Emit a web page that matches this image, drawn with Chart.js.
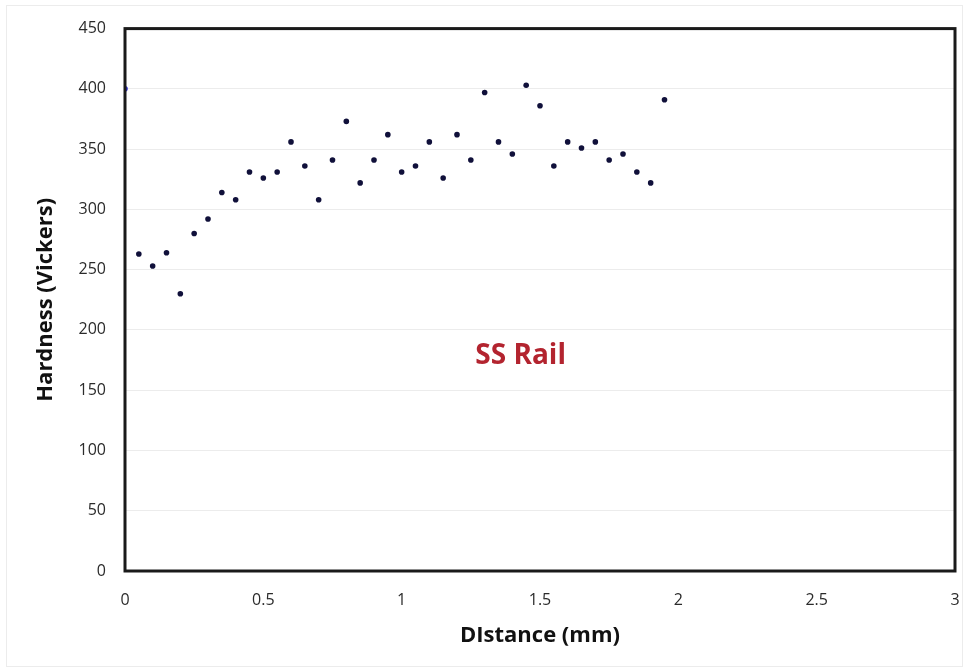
<!DOCTYPE html>
<html>
<head>
<meta charset="utf-8">
<script src="https://cdn.jsdelivr.net/npm/chart.js@4/dist/chart.umd.min.js"></script>
<style>
  html, body { margin: 0; padding: 0; background: #fff; }
  #wrap { width: 967px; height: 671px; position: relative; }
  #edge { position: absolute; left: 6px; top: 5px; right: 4px; bottom: 4px; border: 1px solid #ececec; pointer-events: none; }
</style>
</head>
<body>
<div id="wrap"><canvas id="chart" width="967" height="671"></canvas><div id="edge"></div></div>
<script>
// Hardness profile
const distanceMm = [0, 0.05, 0.1, 0.15, 0.2, 0.25, 0.3, 0.35, 0.4, 0.45, 0.5, 0.55, 0.6, 0.65, 0.7,
  0.75, 0.8, 0.85, 0.9, 0.95, 1.0, 1.05, 1.1, 1.15, 1.2, 1.25, 1.3, 1.35, 1.4, 1.45, 1.5,
  1.55, 1.6, 1.65, 1.7, 1.75, 1.8, 1.85, 1.9, 1.95];
const hardnessHv = [400, 263, 253, 264, 230, 280, 292, 314, 308, 331, 326, 331, 356, 336, 308,
  341, 373, 322, 341, 362, 331, 336, 356, 326, 362, 341, 397, 356, 346, 403, 386,
  336, 356, 351, 356, 341, 346, 331, 322, 391];
const yTicks = [0, 50, 100, 150, 200, 250, 300, 350, 400, 450];
const xTicks = [0, 0.5, 1, 1.5, 2, 2.5, 3];
const labelText = 'SS Rail';

const points = distanceMm.map((x, i) => ({ x: x, y: hardnessHv[i] }));

// frame round the plot area + the "SS Rail" label
const framePlugin = {
  id: 'frame',
  afterDatasetsDraw(chart) {
    const { ctx, chartArea: a, scales } = chart;
    ctx.save();
    ctx.strokeStyle = '#1a1a1a';
    ctx.lineWidth = 3;
    ctx.strokeRect(a.left, a.top, a.right - a.left, a.bottom - a.top);
    ctx.fillStyle = '#b3242f';
    ctx.font = 'bold 28px "Open Sans", sans-serif';
    ctx.textAlign = 'center';
    ctx.textBaseline = 'middle';
    ctx.fillText(labelText, scales.x.getPixelForValue(1.43), scales.y.getPixelForValue(178));
    ctx.restore();
  }
};

const ctx = document.getElementById('chart').getContext('2d');
new Chart(ctx, {
  type: 'scatter',
  data: {
    datasets: [{
      label: 'Hardness',
      data: points,
      backgroundColor: points.map((p, i) => i === 0 ? '#2a2ad0' : '#10103a'),
      borderColor: points.map((p, i) => i === 0 ? '#2a2ad0' : '#10103a'),
      pointRadius: 2.8,
      pointHoverRadius: 4,
      borderWidth: 0
    }]
  },
  options: {
    responsive: false,
    animation: false,
    layout: { padding: { left: 0, right: 12, top: 26, bottom: 0 } },
    plugins: {
      legend: { display: false },
      tooltip: { enabled: false }
    },
    scales: {
      x: {
        type: 'linear',
        min: 0,
        max: 3,
        afterBuildTicks: (axis) => { axis.ticks = xTicks.map(v => ({ value: v })); },
        afterFit: (axis) => {
          axis.height = 100;
          axis.paddingLeft = 0;
          axis.paddingRight = 0;
        },
        ticks: {
          color: '#2b2b2b',
          padding: 20,
          font: { family: '"Open Sans", sans-serif', size: 16 },
          callback: (v) => String(v)
        },
        grid: { display: false, drawTicks: false },
        border: { display: false },
        title: {
          display: true,
          text: 'DIstance (mm)',
          color: '#111',
          padding: { top: 4, bottom: 22 },
          font: { family: '"Open Sans", sans-serif', size: 22, weight: 'bold' }
        }
      },
      y: {
        min: 0,
        max: 450,
        afterBuildTicks: (axis) => { axis.ticks = yTicks.map(v => ({ value: v })); },
        afterFit: (axis) => { axis.width = 125; },
        ticks: {
          color: '#2b2b2b',
          padding: 19,
          font: { family: '"Open Sans", sans-serif', size: 16 }
        },
        grid: { color: '#ececec', lineWidth: 1, drawTicks: false },
        border: { display: false },
        title: {
          display: true,
          text: 'Hardness (Vickers)',
          color: '#111',
          padding: { top: 33, bottom: 4 },
          font: { family: '"Open Sans", sans-serif', size: 22, weight: 'bold' }
        }
      }
    }
  },
  plugins: [framePlugin]
});
</script>
</body>
</html>
